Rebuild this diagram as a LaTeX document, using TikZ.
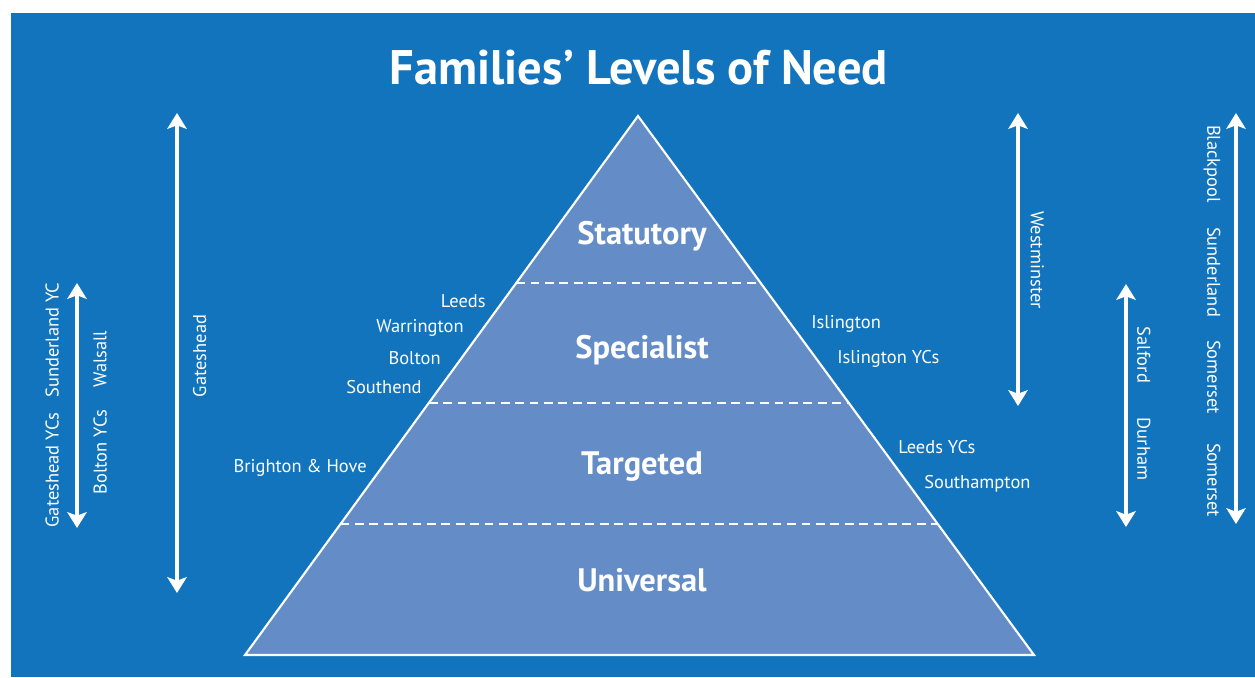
\documentclass[tikz,border=0pt]{standalone}
\usepackage{fontspec}
\setmainfont{PT Sans}
\usetikzlibrary{arrows.meta,calc}
\definecolor{bgblue}{RGB}{17,116,188}
\definecolor{pyrblue}{RGB}{100,141,200}

\begin{document}
\begin{tikzpicture}[x=0.02cm,y=-0.02cm,
  lbl/.style={text=white,font=\fontsize{10.5}{12}\selectfont,inner sep=0pt},
  lvl/.style={text=white,font=\bfseries\fontsize{18.5}{21}\selectfont,inner sep=0pt,anchor=base},
  vlbl/.style={lbl,text depth=0pt,anchor=center},
  dblarrow/.style={white,line width=1.9pt,{Stealth[length=9pt,width=11pt,inset=2pt]}-{Stealth[length=9pt,width=11pt,inset=2pt]}},
  band/.style={white,line width=1.1pt,dash pattern=on 5pt off 3.2pt}]

\useasboundingbox (0,0) rectangle (1255,677);
\fill[white] (0,0) rectangle (1255,677);
\fill[bgblue] (11,13) rectangle (1255,677);

% title
\node[text=white,font=\bfseries\fontsize{27.6}{31}\selectfont,inner sep=0pt,anchor=base] (title) at (639,84) {Families’ Levels of Need};

% pyramid
\coordinate (apex) at (638,116);
\coordinate (bl) at (245,655);
\coordinate (br) at (1034,655);
\draw[fill=pyrblue,draw=white,line width=1.2pt] (bl) -- (apex) -- (br) -- cycle;

% level boundaries
\coordinate (d1l) at ($(apex)!0.3098!(bl)$);
\coordinate (d1r) at ($(apex)!0.3098!(br)$);
\coordinate (d2l) at ($(apex)!0.5325!(bl)$);
\coordinate (d2r) at ($(apex)!0.5325!(br)$);
\coordinate (d3l) at ($(apex)!0.7570!(bl)$);
\coordinate (d3r) at ($(apex)!0.7570!(br)$);
\draw[band] (d1l) -- (d1r);
\draw[band] (d2l) -- (d2r);
\draw[band] (d3l) -- (d3r);

% level names
\node[lvl] (statutory) at (642,244) {Statutory};
\node[lvl] (specialist) at (642,358) {Specialist};
\node[lvl] (targeted) at (642,474) {Targeted};
\node[lvl] (universal) at (642,591) {Universal};

% authorities along the left edge
\node[lbl,anchor=base east] (leeds) at (486,307) {Leeds};
\node[lbl,anchor=base east] (warrington) at (464,332) {Warrington};
\node[lbl,anchor=base east] (bolton) at (441,364) {Bolton};
\node[lbl,anchor=base east] (southend) at (422,393) {Southend};
\node[lbl,anchor=base east] (brighton) at (367,472) {Brighton \& Hove};

% authorities along the right edge
\node[lbl,anchor=base west] (islington) at (811,328) {Islington};
\node[lbl,anchor=base west] (islingtonyc) at (837,363) {Islington YCs};
\node[lbl,anchor=base west] (leedsyc) at (898,453) {Leeds YCs};
\node[lbl,anchor=base west] (southampton) at (924,488) {Southampton};

% left-hand ranges
\coordinate (gh1) at (177,113);
\coordinate (gh2) at (177,593);
\draw[dblarrow] (gh1) -- (gh2);
\node[vlbl,rotate=90] (gateshead) at (199.5,356) {Gateshead};

\coordinate (sw1) at (77,283);
\coordinate (sw2) at (77,528);
\draw[dblarrow] (sw1) -- (sw2);
\node[vlbl,rotate=90] (sunderlandyc) at (52,340) {Sunderland YC};
\node[vlbl,rotate=90] (gatesheadyc) at (52,470) {Gateshead YCs};
\node[vlbl,rotate=90] (walsall) at (100,359) {Walsall};
\node[vlbl,rotate=90] (boltonyc) at (100,452) {Bolton YCs};

% right-hand ranges
\coordinate (wm1) at (1018,113);
\coordinate (wm2) at (1018,406);
\draw[dblarrow] (wm1) -- (wm2);
\node[vlbl,rotate=-90] (westminster) at (1037.5,260) {Westminster};

\coordinate (sd1) at (1126,284);
\coordinate (sd2) at (1126,527);
\draw[dblarrow] (sd1) -- (sd2);
\node[vlbl,rotate=-90] (salford) at (1144,355) {Salford};
\node[vlbl,rotate=-90] (durham) at (1144,449) {Durham};

\coordinate (bp1) at (1236,113);
\coordinate (bp2) at (1236,524);
\draw[dblarrow] (bp1) -- (bp2);
\node[vlbl,rotate=-90] (blackpool) at (1214,164) {Blackpool};
\node[vlbl,rotate=-90] (sunderland) at (1214,272) {Sunderland};
\node[vlbl,rotate=-90] (somerset1) at (1214,377) {Somerset};
\node[vlbl,rotate=-90] (somerset2) at (1214,480) {Somerset};
\end{tikzpicture}
\end{document}
